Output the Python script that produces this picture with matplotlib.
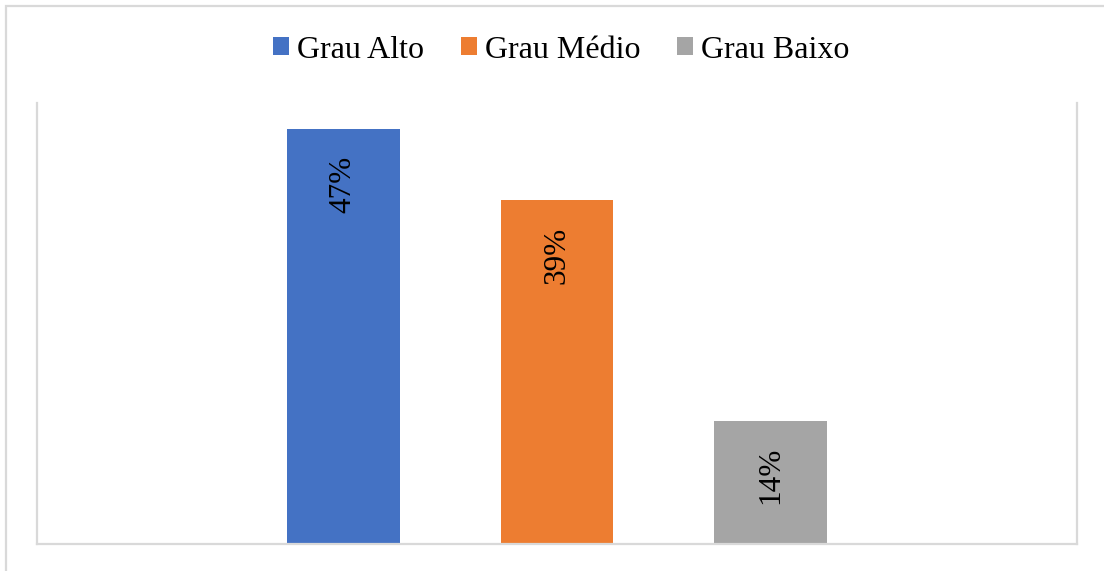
import matplotlib
matplotlib.use("Agg")
import matplotlib.pyplot as plt
from matplotlib.patches import Rectangle

categorias = ["Grau Alto", "Grau Médio", "Grau Baixo"]
percentuais = [47, 39, 14]
cores = ["#4472C4", "#ED7D31", "#A5A5A5"]

plt.rcParams["font.family"] = ["Liberation Serif", "DejaVu Serif"]

fig = plt.figure(figsize=(11.04, 5.71), dpi=100)
ax = fig.add_axes([37 / 1104, 1 - 544 / 571, 1040 / 1104, 441 / 571])

pos = list(range(len(categorias)))
barras = ax.bar(pos, percentuais, width=0.528, color=cores, label=categorias, zorder=2)

# rotated value labels just inside the top of each bar
for b, v in zip(barras, percentuais):
    ax.annotate(f"{v}%", xy=(b.get_x() + b.get_width() / 2, v),
                xytext=(0, -19), textcoords="offset points",
                rotation=90, ha="center", va="top", fontsize=22.5)

ax.set_xlim(1 - 2.43, 1 + 2.43)
ax.set_ylim(0, 50)
ax.set_xticks([])
ax.set_yticks([])
ax.spines["top"].set_visible(False)
for s in ["left", "right", "bottom"]:
    ax.spines[s].set_color("#d9d9d9")
    ax.spines[s].set_linewidth(1.6)

fig.legend(barras, categorias, loc="center", bbox_to_anchor=(0.5086, 1 - 50 / 571),
           ncol=3, frameon=False, fontsize=23, handlelength=0.5, handleheight=0.5,
           handletextpad=0.25, columnspacing=1.15)

# chart frame
fig.add_artist(Rectangle((6 / 1104, -0.05), 1.1, 1 - 5.5 / 571 + 0.05,
                         transform=fig.transFigure, fill=False,
                         edgecolor="#d9d9d9", linewidth=1.6))

fig.savefig("out.png", dpi=100)
